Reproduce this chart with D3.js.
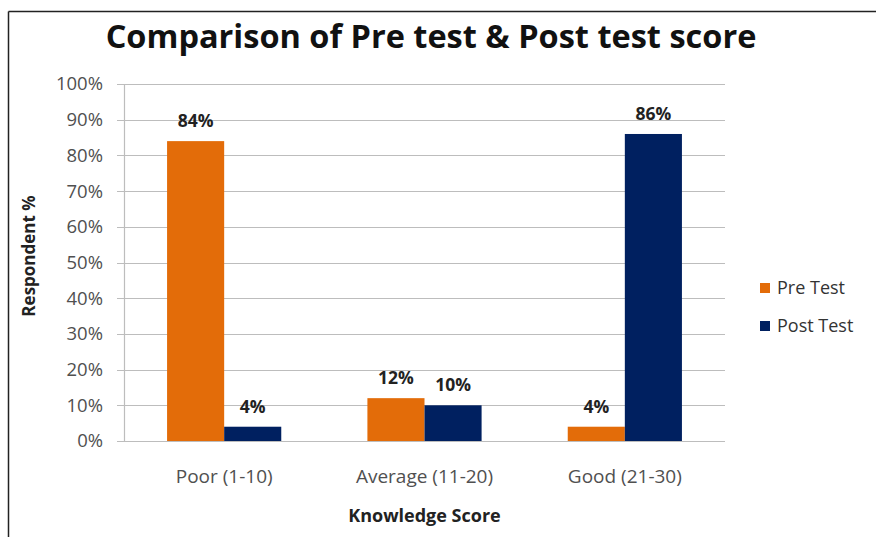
<!DOCTYPE html>
<html>
<head>
<meta charset="utf-8">
<script src="https://cdn.jsdelivr.net/npm/d3@7"></script>
<style>
  body { margin: 0; background: #fff; }
  svg { display: block; font-family: "Open Sans", Lato, sans-serif; }
</style>
</head>
<body>
<div id="chart"></div>
<script>
// Chart data
const categories = ["Poor (1-10)", "Average (11-20)", "Good (21-30)"];
const seriesNames = ["Pre Test", "Post Test"];
const preTest = [84, 12, 4];
const postTest = [4, 10, 86];
const yTicks = [0, 10, 20, 30, 40, 50, 60, 70, 80, 90, 100];

const colors = { "Pre Test": "#E36C09", "Post Test": "#002060" };

const width = 876;
const height = 537;

const plot = { left: 124, right: 725, top: 84, bottom: 441 };

const svg = d3
  .select("#chart")
  .append("svg")
  .attr("width", width)
  .attr("height", height);

// Outer frame (left and top edges visible)
svg.append("line")
  .attr("x1", 8.5).attr("x2", 8.5).attr("y1", 11.5).attr("y2", height)
  .attr("stroke", "#222").attr("stroke-width", 1.5);
svg.append("line")
  .attr("x1", 8.5).attr("x2", width).attr("y1", 11.5).attr("y2", 11.5)
  .attr("stroke", "#222").attr("stroke-width", 1.5);

// Scales
const x0 = d3.scaleBand()
  .domain(categories)
  .range([plot.left, plot.right])
  .paddingInner(0.43)
  .paddingOuter(0.215);

const x1 = d3.scaleBand()
  .domain(seriesNames)
  .range([0, x0.bandwidth()]);

const y = d3.scaleLinear().domain([0, 100]).range([plot.bottom, plot.top]);

// Gridlines
svg.append("g")
  .selectAll("line")
  .data(yTicks)
  .join("line")
  .attr("x1", plot.left - 7)
  .attr("x2", plot.right)
  .attr("y1", (d) => Math.round(y(d)) + 0.5)
  .attr("y2", (d) => Math.round(y(d)) + 0.5)
  .attr("stroke", "#bdbdbd")
  .attr("stroke-width", 1.2);

// Y axis line
svg.append("line")
  .attr("x1", plot.left + 0.5).attr("x2", plot.left + 0.5)
  .attr("y1", plot.top).attr("y2", plot.bottom)
  .attr("stroke", "#bdbdbd").attr("stroke-width", 1.2);

// Y tick labels
svg.append("g")
  .selectAll("text")
  .data(yTicks)
  .join("text")
  .attr("x", 103)
  .attr("y", (d) => y(d))
  .attr("dy", "0.35em")
  .attr("text-anchor", "end")
  .attr("font-size", 18.5)
  .attr("fill", "#505050")
  .text((d) => d + "%");

// Bars
const rows = categories.map((c, i) => ({
  category: c,
  values: [
    { series: "Pre Test", value: preTest[i] },
    { series: "Post Test", value: postTest[i] },
  ],
}));

const groups = svg.append("g")
  .selectAll("g")
  .data(rows)
  .join("g")
  .attr("transform", (d) => `translate(${x0(d.category)},0)`);

groups.selectAll("rect")
  .data((d) => d.values)
  .join("rect")
  .attr("x", (d) => x1(d.series))
  .attr("y", (d) => y(d.value))
  .attr("width", x1.bandwidth())
  .attr("height", (d) => y(0) - y(d.value))
  .attr("fill", (d) => colors[d.series]);

groups.selectAll("text")
  .data((d) => d.values)
  .join("text")
  .attr("x", (d) => x1(d.series) + x1.bandwidth() / 2)
  .attr("y", (d) => y(d.value) - 14)
  .attr("text-anchor", "middle")
  .attr("font-size", 17.5)
  .attr("font-weight", "bold")
  .attr("fill", "#222")
  .text((d) => d.value + "%");

// X category labels
svg.append("g")
  .selectAll("text")
  .data(categories)
  .join("text")
  .attr("x", (d) => x0(d) + x0.bandwidth() / 2)
  .attr("y", 476)
  .attr("dy", "0.35em")
  .attr("text-anchor", "middle")
  .attr("font-size", 19)
  .attr("fill", "#505050")
  .text((d) => d);

// Axis titles
svg.append("text")
  .attr("x", (plot.left + plot.right) / 2)
  .attr("y", 516)
  .attr("dy", "0.35em")
  .attr("text-anchor", "middle")
  .attr("font-size", 18)
  .attr("font-weight", "bold")
  .attr("fill", "#222")
  .text("Knowledge Score");

svg.append("text")
  .attr("transform", "translate(29,256) rotate(-90)")
  .attr("dy", "0.35em")
  .attr("text-anchor", "middle")
  .attr("font-size", 17)
  .attr("font-weight", "bold")
  .attr("fill", "#222")
  .text("Respondent %");

// Title
svg.append("text")
  .attr("x", 431)
  .attr("y", 48)
  .attr("text-anchor", "middle")
  .attr("font-size", 32.5)
  .attr("font-weight", "bold")
  .attr("fill", "#111")
  .text("Comparison of Pre test & Post test score");

// Legend
const legend = svg.append("g")
  .selectAll("g")
  .data(seriesNames)
  .join("g")
  .attr("transform", (d, i) => `translate(760, ${288 + i * 38})`);

legend.append("rect")
  .attr("x", 0).attr("y", -5)
  .attr("width", 10).attr("height", 10)
  .attr("fill", (d) => colors[d]);

legend.append("text")
  .attr("x", 17)
  .attr("y", 0)
  .attr("dy", "0.35em")
  .attr("font-size", 18)
  .attr("fill", "#333")
  .text((d) => d);
</script>
</body>
</html>
